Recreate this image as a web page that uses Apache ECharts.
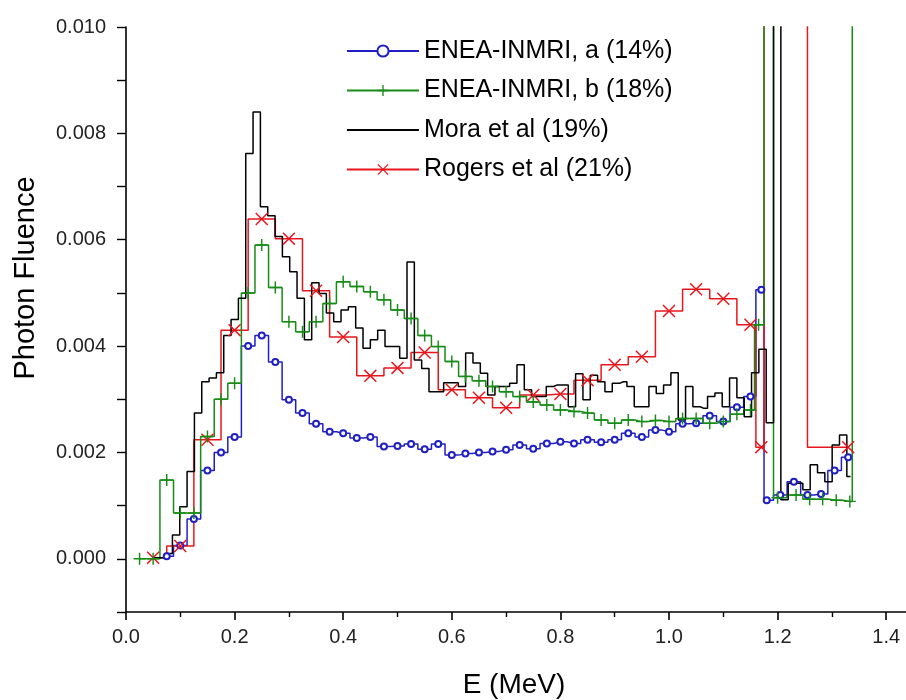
<!DOCTYPE html>
<html>
<head>
<meta charset="utf-8">
<script src="https://cdn.jsdelivr.net/npm/echarts@6/dist/echarts.min.js"></script>
<style>
html,body{margin:0;padding:0;background:#fff;}
#chart{width:906px;height:700px;}
</style>
</head>
<body>
<div id="chart"></div>
<script>
// ---------------- DATA (photon fluence vs E in MeV) ----------------
// ENEA-INMRI, a (14%) : bin centres and values
const eneaA_E = [0.075,0.1,0.125,0.15,0.175,0.2,0.225,0.25,0.275,0.3,0.325,0.35,0.375,0.4,0.425,0.45,0.475,0.5,0.525,0.55,0.575,0.6,0.625,0.65,0.675,0.7,0.725,0.75,0.775,0.8,0.825,0.85,0.875,0.9,0.925,0.95,0.975,1.0,1.025,1.05,1.075,1.1,1.125,1.15,1.17,1.18,1.205,1.23,1.255,1.28,1.305,1.33];
const eneaA_val = [0.00005,0.00025,0.00075,0.00166,0.0020,0.00229,0.0040,0.0042,0.0037,0.00299,0.00274,0.00254,0.00239,0.00236,0.00227,0.00229,0.00211,0.00212,0.00216,0.00206,0.00216,0.00195,0.00198,0.0020,0.00202,0.00205,0.00214,0.00207,0.00217,0.0022,0.00217,0.00224,0.00219,0.00224,0.00236,0.00229,0.00242,0.00239,0.00254,0.00255,0.00269,0.00258,0.00285,0.00305,0.00506,0.0011,0.0012,0.00145,0.0012,0.00122,0.00166,0.00191];

// ENEA-INMRI, b (18%)  (0.06 = off-scale peak)
const eneaB_E = [0.025,0.05,0.075,0.1,0.125,0.15,0.175,0.2,0.225,0.25,0.275,0.3,0.325,0.35,0.375,0.4,0.425,0.45,0.475,0.5,0.525,0.55,0.575,0.6,0.625,0.65,0.675,0.7,0.725,0.75,0.775,0.8,0.825,0.85,0.875,0.9,0.925,0.95,0.975,1.0,1.025,1.05,1.075,1.1,1.125,1.15,1.165,1.185,1.2,1.234,1.259,1.283,1.308,1.333,1.342];
const eneaB_val = [0.0,0.0,0.00148,0.00086,0.00086,0.0023,0.0030,0.0033,0.0050,0.0059,0.0051,0.00446,0.00427,0.00446,0.0048,0.00521,0.00512,0.00502,0.00487,0.00468,0.00452,0.0042,0.00399,0.00371,0.00343,0.00335,0.00324,0.00314,0.00305,0.00295,0.00289,0.0028,0.00277,0.00274,0.00261,0.00255,0.00261,0.00258,0.0026,0.00258,0.00264,0.00264,0.00255,0.00258,0.00272,0.0028,0.0044,0.06,0.00115,0.0012,0.00112,0.00112,0.0011,0.00108,0.06];

// Mora et al (19%) : histogram with bins of 0.0135 MeV, first bin centre 0.05175
const moraFirstCentre = 0.05175;
const moraBinWidth = 0.0135;
const mora_val = [0.00002,0.00002,0.0001,0.00045,0.00098,0.00164,0.00274,0.00333,0.0034,0.0035,0.0042,0.0045,0.0049,0.00762,0.0084,0.00662,0.00645,0.00606,0.00568,0.0054,0.0049,0.00412,0.00519,0.00499,0.00462,0.00446,0.00468,0.00474,0.00434,0.00396,0.00412,0.0043,0.00399,0.00399,0.00377,0.00558,0.00374,0.00358,0.00314,0.00314,0.00331,0.00331,0.00324,0.00387,0.00368,0.00349,0.00308,0.00324,0.00324,0.0033,0.00365,0.00318,0.00305,0.00305,0.00324,0.00327,0.00327,0.00286,0.00348,0.00299,0.00345,0.00333,0.00314,0.0033,0.00333,0.00324,0.00286,0.00286,0.00324,0.00311,0.00327,0.0035,0.00261,0.00324,0.00286,0.00283,0.00305,0.00312,0.00286,0.0034,0.00303,0.00267,0.0035,0.00394,0.00256,0.06,0.00111,0.00142,0.00142,0.0013,0.00177,0.00162,0.00145,0.00214,0.00233,0.00155];

// Rogers et al (21%)
const rogers_E = [0.05,0.1,0.15,0.2,0.25,0.3,0.35,0.4,0.45,0.5,0.55,0.6,0.65,0.7,0.75,0.8,0.85,0.9,0.95,1.0,1.05,1.1,1.15,1.17,1.18,1.33];
const rogers_val = [0.00002,0.00024,0.00224,0.0043,0.00639,0.00602,0.00504,0.00417,0.00344,0.00359,0.00388,0.00318,0.00303,0.00284,0.00308,0.0031,0.00336,0.00365,0.0038,0.00466,0.00507,0.00489,0.0044,0.0021,0.06,0.0021];

const seriesNames = ['ENEA-INMRI, a (14%)','ENEA-INMRI, b (18%)','Mora et al (19%)','Rogers et al (21%)'];
const xTicks = [0,0.2,0.4,0.6,0.8,1.0,1.2,1.4];
// -------------------------------------------------------------------

const mora_E = mora_val.map((v, i) => +(moraFirstCentre + i * moraBinWidth).toFixed(5));
const zip = (xs, ys) => xs.map((x, i) => [x, ys[i]]);

const FONT = 'Liberation Sans, Arial, sans-serif';
const BLUE = '#1f1fc4', GREEN = '#168c16', BLACK = '#000000', RED = '#e8161c';
const PLUS = 'path://M4.4,0L5.6,0L5.6,10L4.4,10Z M0,4.4L10,4.4L10,5.6L0,5.6Z';
const CROSS = 'path://M0,0.8L0.8,0L10,9.2L9.2,10Z M9.2,0L10,0.8L0.8,10L0,9.2Z';

const chart = echarts.init(document.getElementById('chart'), null, {renderer: 'canvas'});
chart.setOption({
  animation: false,
  backgroundColor: '#fff',
  grid: {left: 126, top: 27, height: 585, width: 814.5, outerBoundsMode: 'none', containLabel: false},
  legend: {
    orient: 'vertical', left: 346, top: 37, padding: 0,
    itemWidth: 72, itemHeight: 14, itemGap: 11.5,
    textStyle: {fontSize: 25, fontFamily: FONT, color: '#000', lineHeight: 28},
    data: [seriesNames[0], seriesNames[1], {name: seriesNames[2], itemStyle: {opacity: 0}}, seriesNames[3]],
    selectedMode: false
  },
  xAxis: {
    type: 'value', min: 0, max: 1.5, interval: 0.2,
    axisLine: {onZero: false, lineStyle: {color: '#000', width: 1.6}},
    axisTick: {length: 8, lineStyle: {color: '#000', width: 1.6}},
    minorTick: {show: true, splitNumber: 2, length: 5, lineStyle: {color: '#000', width: 1.4}},
    splitLine: {show: false},
    axisLabel: {fontSize: 20, fontFamily: FONT, color: '#222', margin: 15,
      formatter: v => xTicks.some(t => Math.abs(t - v) < 1e-9) ? v.toFixed(1) : ''}
  },
  yAxis: {
    type: 'value', min: -0.001, max: 0.010, interval: 0.001,
    axisLine: {show: true, onZero: false, lineStyle: {color: '#000', width: 1.6}},
    axisTick: {show: true, length: 9, lineStyle: {color: '#000', width: 1.4}},
    splitLine: {show: false},
    axisLabel: {fontSize: 20, fontFamily: FONT, color: '#222', margin: 20,
      formatter: v => { const m = Math.round(v * 1000); return (m % 2 === 0 && m >= 0) ? (m / 1000).toFixed(3) : ''; }}
  },
  graphic: [{
    type: 'text', x: 26, y: 278, rotation: Math.PI / 2,
    style: {text: 'Photon Fluence', fontSize: 29, fontFamily: FONT, fill: '#000', align: 'center', verticalAlign: 'middle'}
  }, {
    type: 'text', x: 514, y: 685,
    style: {text: 'E (MeV)', fontSize: 28, fontFamily: FONT, fill: '#000', align: 'center', verticalAlign: 'middle'}
  }],
  series: [
    {name: seriesNames[0], type: 'line', step: 'middle', data: zip(eneaA_E, eneaA_val),
      symbol: 'emptyCircle', symbolSize: 6, lineStyle: {color: BLUE, width: 1.5},
      itemStyle: {color: BLUE, borderWidth: 1.2}, emphasis: {disabled: true}, z: 2},
    {name: seriesNames[3], type: 'line', step: 'middle', data: zip(rogers_E, rogers_val),
      symbol: CROSS, symbolSize: 13, lineStyle: {color: RED, width: 1.5},
      itemStyle: {color: RED, borderWidth: 0}, emphasis: {disabled: true}, z: 2},
    {name: seriesNames[1], type: 'line', step: 'middle', data: zip(eneaB_E, eneaB_val),
      symbol: PLUS, symbolSize: 12, lineStyle: {color: GREEN, width: 1.5},
      itemStyle: {color: GREEN, borderWidth: 0}, emphasis: {disabled: true}, z: 2},
    {name: seriesNames[2], type: 'line', step: 'middle', data: zip(mora_E, mora_val),
      symbol: 'none', lineStyle: {color: BLACK, width: 1.5},
      itemStyle: {color: BLACK}, emphasis: {disabled: true}, z: 2}
  ]
});
</script>
</body>
</html>
